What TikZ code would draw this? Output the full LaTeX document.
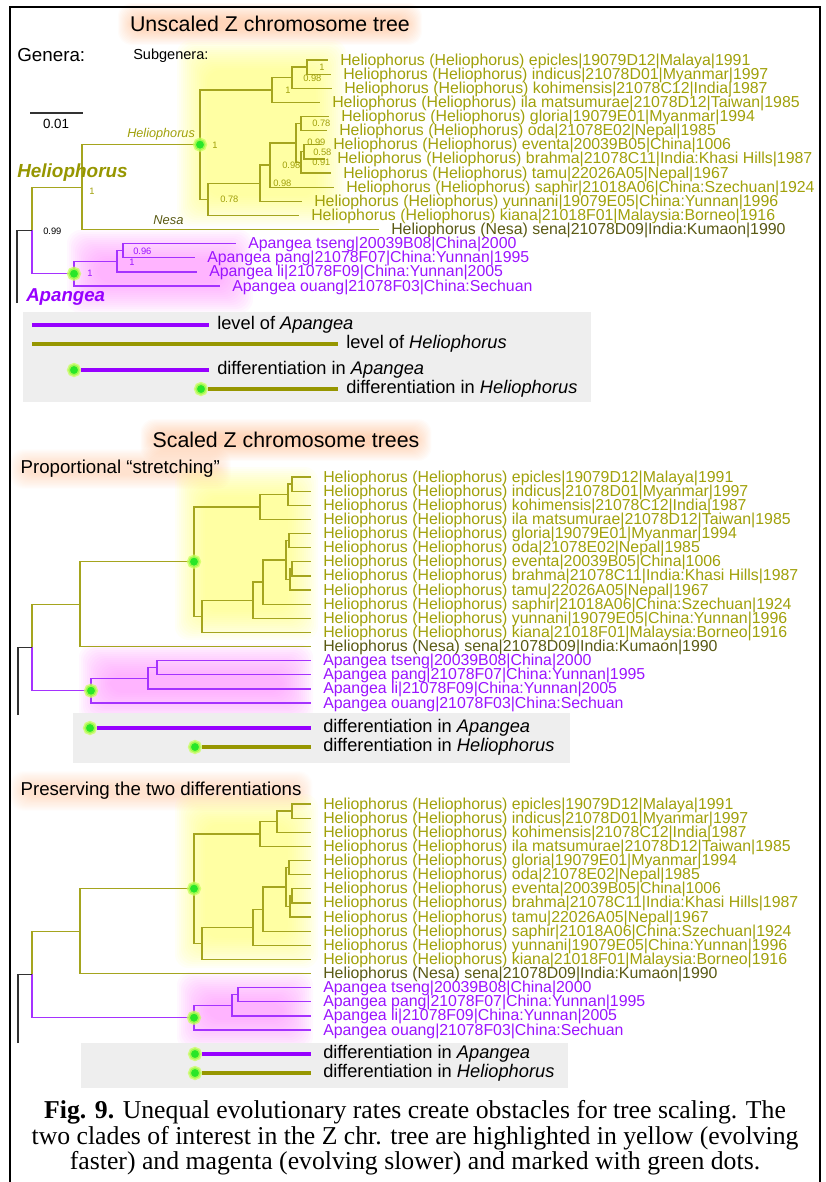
\documentclass[tikz,border=0pt]{standalone}
\usepackage{fontspec}
\setmainfont{Liberation Sans}
\newfontfamily\capfont{Liberation Serif}
\usetikzlibrary{calc,positioning}

\definecolor{heliobranch}{RGB}{165,165,30}
\definecolor{heliotext}{RGB}{160,160,10}
\definecolor{nesatext}{RGB}{90,90,20}
\definecolor{apanbranch}{RGB}{165,50,255}
\definecolor{apantext}{RGB}{155,20,255}
\definecolor{stemgray}{RGB}{50,50,50}
\definecolor{dotgreen}{RGB}{40,230,40}
\definecolor{dotglow}{RGB}{200,255,90}
\definecolor{hazeyellow}{RGB}{255,255,100}
\definecolor{hazepink}{RGB}{255,130,255}
\definecolor{hazeorange}{RGB}{255,150,80}
\definecolor{legendgray}{RGB}{238,238,238}
\definecolor{lvlolive}{RGB}{150,150,0}
\definecolor{lvlpurple}{RGB}{150,0,255}

\pgfdeclarelayer{background}
\pgfsetlayers{background,main}

\newcommand\leaffont{\fontsize{11.9}{12}\selectfont}

\tikzset{
  helio/.style={draw=heliobranch, line width=0.9pt},
  apan/.style={draw=apanbranch, line width=0.9pt},
  stemline/.style={draw=stemgray, line width=0.9pt},
  leaf/.style={font=\leaffont, inner sep=0pt, text height=7.5pt, text depth=0pt},
  gdot/.style={circle, inner sep=0pt, minimum size=8.5pt, fill=dotgreen, draw=dotglow, draw opacity=0.75, line width=2.2pt},
  boot/.style={font=\fontsize{7}{8}\selectfont, inner sep=0pt, anchor=west},
  lvl/.style={line width=2.6pt},
  legtext/.style={font=\fontsize{13.7}{15}\selectfont, inner sep=0pt, anchor=west, text height=7pt, text depth=0pt},
  ttl/.style={font=\fontsize{16}{18}\selectfont, inner sep=1pt},
  subhead/.style={font=\fontsize{14}{16}\selectfont, inner sep=1pt, anchor=west},
  captext/.style={font=\capfont\fontsize{19.3}{19.1}\selectfont, align=center, inner sep=0pt},
}

% soft glow behind a clade or a title
\newcommand\haze[5][0.055]{%
  \foreach \k in {0,...,15}
    \fill[#2, opacity=#1, rounded corners=10pt]
      ($(#4)+(-\k*#3,-\k*#3)$) rectangle ($(#5)+(\k*#3,\k*#3)$);}

% branches of one tree
\newcommand\zbranches[1]{%
  \foreach \p/\q in {root/H,H/S,H/se,S/c1,S/c4,c1/c2,c1/il,c2/c3,c2/ko,c3/ep,c3/in,
      c4/c5,c4/ki,c5/c6,c5/yu,c6/c7,c6/sa,c7/c8,c7/c9,c8/gl,c8/od,c9/c10,c9/ta,c10/ev,c10/br}
    \draw[helio] (#1\p) |- (#1\q);
  \foreach \p/\q in {root/A,A/a1,A/ou,a1/a2,a1/li,a2/ts,a2/pa}
    \draw[apan] (#1\p) |- (#1\q);
  \draw[stemline] (#1base) |- (#1root);}

% leaf names of one tree
\newcommand\zlabels[1]{%
  \foreach \n/\lab in {ep/{epicles|19079D12|Malaya|1991},in/{indicus|21078D01|Myanmar|1997},
      ko/{kohimensis|21078C12|India|1987},il/{ila matsumurae|21078D12|Taiwan|1985},
      gl/{gloria|19079E01|Myanmar|1994},od/{oda|21078E02|Nepal|1985},
      ev/{eventa|20039B05|China|1006},br/{brahma|21078C11|India:Khasi Hills|1987},
      ta/{tamu|22026A05|Nepal|1967},sa/{saphir|21018A06|China:Szechuan|1924},
      yu/{yunnani|19079E05|China:Yunnan|1996},ki/{kiana|21018F01|Malaysia:Borneo|1916}}
    \node[leaf, text=heliotext, right=9pt of #1\n] (#1t\n) {Heliophorus (Heliophorus) \lab};
  \node[leaf, text=nesatext, right=9pt of #1se] (#1tse) {Heliophorus (Nesa) sena|21078D09|India:Kumaon|1990};
  \foreach \n/\lab in {ts/{tseng|20039B08|China|2000},pa/{pang|21078F07|China:Yunnan|1995},
      li/{li|21078F09|China:Yunnan|2005},ou/{ouang|21078F03|China:Sechuan}}
    \node[leaf, text=apantext, right=9pt of #1\n] (#1t\n) {Apangea \lab};}

\begin{document}
\begin{tikzpicture}[x=0.75pt,y=-0.75pt]
\useasboundingbox (0,0) rectangle (825,1182);
\draw[line width=1.5pt] (10,1182) -- (10,7) -- (820,7) -- (820,1182);

%% unscaled tree
\node[ttl] (ttlU) at (270,24) {Unscaled Z chromosome tree};
\node[font=\fontsize{14.1}{16}\selectfont, inner sep=0pt, anchor=west] (genera) at (17,55) {Genera:};
\node[font=\fontsize{10.9}{12}\selectfont, inner sep=0pt, anchor=west] (subgenera) at (133,56) {Subgenera:};
\coordinate (sbL) at (30,113);
\coordinate (sbR) at (83,113);
\draw[line width=1.3pt, stemgray] (sbL) -- (sbR);
\node[font=\fontsize{10}{12}\selectfont, inner sep=0pt] (sbval) at (56,124) {0.01};

\begin{scope}[shift={(0,60)}]
\foreach \n/\x/\y in {root/32/170.41,H/82/127.11,S/200/84.67,c1/272/30.03,c2/292/17.66,
    c3/307/7.07,c4/208/139.31,c5/260/123.2,c6/270/105.09,c7/296/83.02,c8/301/63.59,
    c9/301/102.44,c10/304/91.85,A/74/213.72,a1/117/201.35,a2/123/190.76,base/17/243}
  \coordinate (U\n) at (\x,\y);
\foreach \n/\x [count=\i from 0] in {ep/328,in/331,ko/332,il/320,gl/329,od/327,ev/321,
    br/325,ta/331,sa/334,yu/302,ki/299,se/379,ts/236,pa/195,li/197,ou/220}
  \coordinate (U\n) at (\x,{14.13*\i});
\end{scope}

\begin{pgfonlayer}{background}
\haze[0.03]{hazeorange}{1.1}{$(ttlU.north west)+(6,5)$}{$(ttlU.south east)+(-6,-5)$}
\haze{hazeyellow}{2}{207,70}{316,196}
\haze{hazepink}{2}{97,260}{223,283}
\fill[legendgray] (23,312) rectangle (591,402);
\end{pgfonlayer}

\zbranches{U}
\zlabels{U}
\node[gdot] (UdotS) at (US) {};
\node[gdot] (UdotA) at (UA) {};

\node[font=\fontsize{14.2}{16}\selectfont\bfseries\itshape, text=lvlolive, inner sep=0pt, anchor=west] (genH) at (17,173) {Heliophorus};
\node[font=\fontsize{14}{16}\selectfont\bfseries\itshape, text=lvlpurple, inner sep=0pt, anchor=west] (genA) at (26,297) {Apangea};
\node[font=\fontsize{9.5}{11}\selectfont\itshape, text=heliotext, inner sep=0pt, anchor=west] (sgH) at (127,134) {Heliophorus};
\node[font=\fontsize{9.7}{11}\selectfont\itshape, text=nesatext, inner sep=0pt, anchor=west] (sgN) at (153,220) {Nesa};

\foreach \v/\x/\y [count=\i] in {1/89/191,1/212/145,0.78/220/199,1/285/90,0.98/303/78,1/319/67,
    0.78/312/123,0.99/307/142,0.58/313/152,0.91/312/162,0.98/282/165,0.98/273/183}
  \node[boot, text=heliotext] (bh\i) at (\x,\y) {\v};
\foreach \v/\x/\y [count=\i] in {0.96/133/251,1/129/262,1/87/273}
  \node[boot, text=apantext] (ba\i) at (\x,\y) {\v};
\node[boot, text=black] (broot) at (43,231) {0.99};

% legend of the unscaled tree
\coordinate (l1a) at (32,325);
\coordinate (l1h) at (32,344);
\node[legtext] (t1a) at (217,325) {level of \textit{Apangea}};
\node[legtext] (t1h) at (346,344) {level of \textit{Heliophorus}};
\node[legtext] (t1da) at (217,370) {differentiation in \textit{Apangea}};
\node[legtext] (t1dh) at (346,389) {differentiation in \textit{Heliophorus}};
\draw[lvl, lvlpurple, shorten >=6pt] (l1a) -- (t1a.west);
\draw[lvl, lvlolive, shorten >=6pt] (l1h) -- (t1h.west);
\node[gdot] (d1a) at (74,370) {};
\node[gdot] (d1h) at (201,389) {};
\draw[lvl, lvlpurple, shorten >=6pt] (d1a) -- (t1da.west);
\draw[lvl, lvlolive, shorten >=6pt] (d1h) -- (t1dh.west);

%% proportional stretching
\node[ttl] (ttlS) at (286,440) {Scaled Z chromosome trees};
\node[subhead] (ttlP) at (19,469) {Proportional “stretching”};

\begin{scope}[shift={(0,477)}]
\foreach \n/\x/\y in {root/32/170.41,H/80/127.11,S/194/84.67,c1/260/30.03,c2/288/17.66,
    c3/292/7.07,c4/202/139.31,c5/253/123.2,c6/263/105.09,c7/286/83.02,c8/289/63.59,
    c9/290/102.44,c10/292/91.85,A/91/213.72,a1/148/201.35,a2/157/190.76,base/18/238}
  \coordinate (P\n) at (\x,\y);
\foreach \n [count=\i from 0] in {ep,in,ko,il,gl,od,ev,br,ta,sa,yu,ki,se,ts,pa,li,ou}
  \coordinate (P\n) at (311,{14.13*\i});
\end{scope}

\begin{pgfonlayer}{background}
\haze[0.03]{hazeorange}{1.1}{$(ttlS.north west)+(6,5)$}{$(ttlS.south east)+(-6,-5)$}
\haze[0.02]{hazeorange}{0.9}{$(ttlP.north west)+(4,4)$}{$(ttlP.south east)+(-4,-4)$}
\haze{hazeyellow}{2}{205,497}{288,610}
\haze{hazepink}{2}{109,674}{283,693}
\fill[legendgray] (73,713) rectangle (570,763);
\end{pgfonlayer}

\zbranches{P}
\zlabels{P}
\node[gdot] (PdotS) at (PS) {};
\node[gdot] (PdotA) at (PA) {};

\node[legtext] (t2a) at (323,728) {differentiation in \textit{Apangea}};
\node[legtext] (t2h) at (323,747) {differentiation in \textit{Heliophorus}};
\node[gdot] (d2a) at (90,728) {};
\node[gdot] (d2h) at (195,747) {};
\draw[lvl, lvlpurple, shorten >=9pt] (d2a) -- (t2a.west);
\draw[lvl, lvlolive, shorten >=9pt] (d2h) -- (t2h.west);

%% preserving the differentiations
\node[subhead] (ttlD) at (19,791) {Preserving the two differentiations};

\begin{scope}[shift={(0,804)}]
\foreach \n/\x/\y in {root/32/170.41,H/80/127.11,S/194/84.67,c1/260/30.03,c2/277/17.66,
    c3/292/7.07,c4/202/139.31,c5/253/123.2,c6/263/105.09,c7/286/83.02,c8/289/63.59,
    c9/290/102.44,c10/292/91.85,A/194/213.72,a1/232/201.35,a2/238/190.76,base/18/239}
  \coordinate (D\n) at (\x,\y);
\foreach \n [count=\i from 0] in {ep,in,ko,il,gl,od,ev,br,ta,sa,yu,ki,se,ts,pa,li,ou}
  \coordinate (D\n) at (311,{14.13*\i});
\end{scope}

\begin{pgfonlayer}{background}
\haze[0.02]{hazeorange}{0.9}{$(ttlD.north west)+(4,4)$}{$(ttlD.south east)+(-4,-4)$}
\haze{hazeyellow}{2}{205,824}{288,938}
\haze{hazepink}{2}{207,1002}{283,1020}
\fill[legendgray] (81,1043) rectangle (568,1088);
\end{pgfonlayer}

\zbranches{D}
\zlabels{D}
\node[gdot] (DdotS) at (DS) {};
\node[gdot] (DdotA) at (DA) {};

\node[legtext] (t3a) at (323,1054) {differentiation in \textit{Apangea}};
\node[legtext] (t3h) at (323,1073) {differentiation in \textit{Heliophorus}};
\node[gdot] (d3a) at (195,1054) {};
\node[gdot] (d3h) at (195,1073) {};
\draw[lvl, lvlpurple, shorten >=9pt] (d3a) -- (t3a.west);
\draw[lvl, lvlolive, shorten >=9pt] (d3h) -- (t3h.west);

%% caption
\node[captext] (cap) at (415,1138) {\textbf{Fig. 9.} Unequal evolutionary rates create obstacles for tree scaling. The\\
two clades of interest in the Z chr. tree are highlighted in yellow (evolving\\
faster) and magenta (evolving slower) and marked with green dots.};
\end{tikzpicture}
\end{document}
